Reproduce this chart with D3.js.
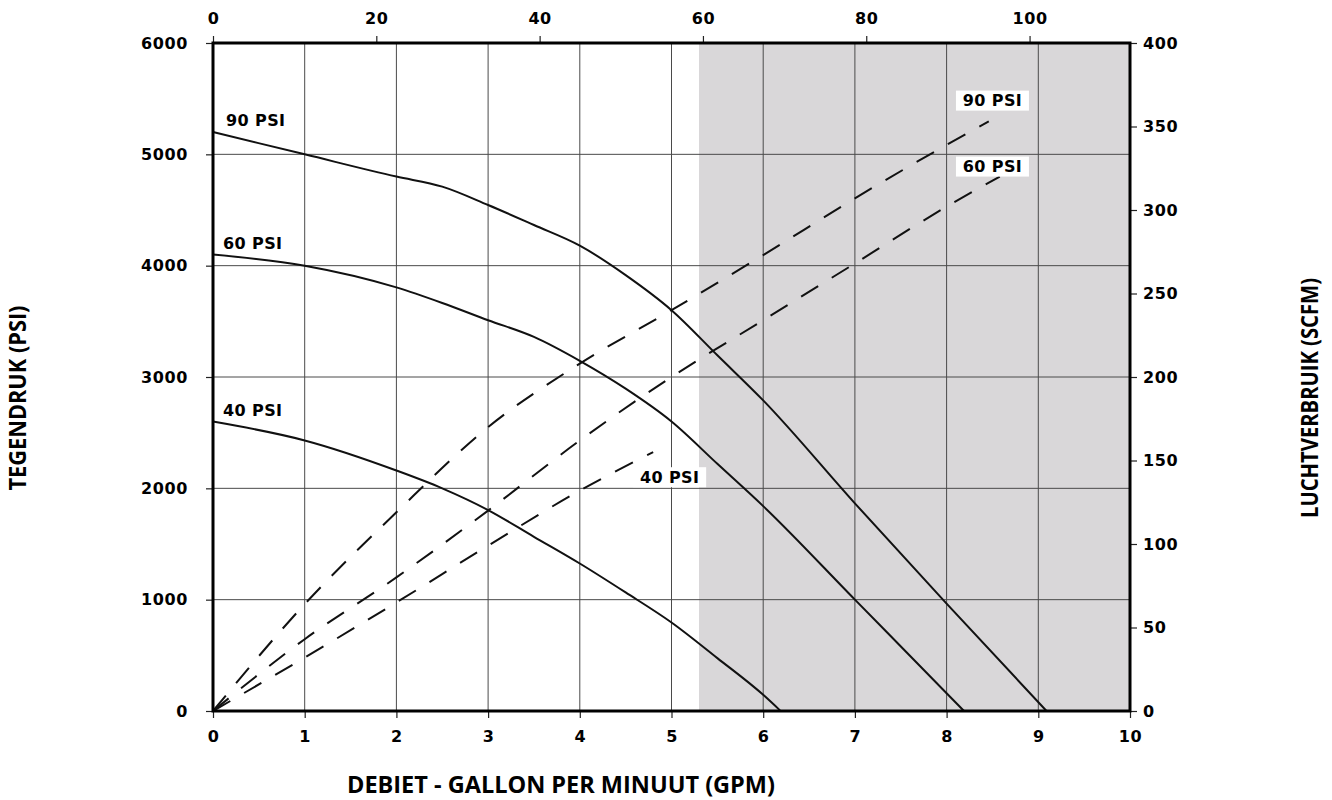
<!DOCTYPE html>
<html>
<head>
<meta charset="utf-8">
<script src="https://cdn.jsdelivr.net/npm/d3@7"></script>
<style>
  html, body { margin: 0; padding: 0; background: #fff; }
  svg { display: block; }
  text { font-family: "DejaVu Sans", sans-serif; font-weight: bold; fill: #000; }
</style>
</head>
<body>
<svg id="chart" width="1332" height="800"></svg>
<script>
// ---- Data -------------------------------------------------------------
// Flow axis (GPM) and its ticks
const gpmTicks = [0, 1, 2, 3, 4, 5, 6, 7, 8, 9, 10];
const topTicks = [0, 20, 40, 60, 80, 100];
const psiTicks = [0, 1000, 2000, 3000, 4000, 5000, 6000];
const scfmTicks = [0, 50, 100, 150, 200, 250, 300, 350, 400];

// Outlet pressure (PSI) vs flow, per air inlet pressure
const gpm90 = [0, 1, 2, 2.5, 3, 3.5, 4, 4.5, 5, 5.5, 6, 7, 8, 9.09];
const psi90 = [5200, 5000, 4800, 4710, 4545, 4365, 4180, 3915, 3600, 3195, 2790, 1865, 965, 0];

const gpm60 = [0, 1, 2, 2.5, 3, 3.5, 4, 4.5, 5, 5.5, 6, 7, 8, 8.19];
const psi60 = [4100, 4000, 3805, 3665, 3510, 3360, 3145, 2895, 2600, 2220, 1840, 1000, 160, 0];

const gpm40 = [0, 1, 2, 2.5, 3, 3.5, 4, 4.5, 5, 5.5, 6, 6.19];
const psi40 = [2600, 2430, 2160, 2000, 1805, 1565, 1325, 1065, 795, 475, 145, 0];

// Air consumption (SCFM) vs flow, per air inlet pressure
const airGpm90 = [0, 1, 2, 3, 4, 5, 6, 7, 8, 8.46];
const scfm90 = [0, 64, 119, 170, 208, 240, 273, 307, 339, 353];

const airGpm60 = [0, 1, 2, 3, 4, 5, 6, 7, 8, 8.58];
const scfm60 = [0, 43, 80, 120, 162, 200, 234, 268, 302, 320];

const airGpm40 = [0, 1, 2, 3, 4, 4.8];
const scfm40 = [0, 32, 65, 99, 132, 155];

// Flow beyond which the pump runs in the shaded range
const shadeFrom = 5.3;

// ---- Layout -----------------------------------------------------------
const svg = d3.select("#chart");
const L = 213, R = 1130, T = 43, B = 711;

const x = d3.scaleLinear().domain([0, 10]).range([L, R]);
const xTop = d3.scaleLinear().domain([0, 112.3]).range([L, R]);
const y = d3.scaleLinear().domain([0, 6000]).range([B, T]);
const yR = d3.scaleLinear().domain([0, 400]).range([B, T]);

// shaded region
svg.append("rect")
  .attr("x", x(shadeFrom)).attr("y", y(6000))
  .attr("width", x(10) - x(shadeFrom)).attr("height", y(0) - y(6000))
  .attr("fill", "#d9d7d9");

// grid
const grid = svg.append("g").attr("stroke", "#4a4a4a").attr("stroke-width", 1);
grid.selectAll("line.v").data(gpmTicks.slice(1, -1)).join("line")
  .attr("class", "v")
  .attr("x1", d => x(d)).attr("x2", d => x(d))
  .attr("y1", y(6000)).attr("y2", y(0));
grid.selectAll("line.h").data(psiTicks.slice(1, -1)).join("line")
  .attr("class", "h")
  .attr("x1", x(0)).attr("x2", x(10))
  .attr("y1", d => y(d)).attr("y2", d => y(d));

// curves
const psiLine = d3.line().x(d => x(d[0])).y(d => y(d[1])).curve(d3.curveMonotoneX);
const airLine = d3.line().x(d => x(d[0])).y(d => yR(d[1])).curve(d3.curveMonotoneX);

const curves = svg.append("g").attr("fill", "none").attr("stroke", "#111").attr("stroke-width", 2);
[[gpm90, psi90], [gpm60, psi60], [gpm40, psi40]].forEach(([g, p]) => {
  curves.append("path").attr("d", psiLine(d3.zip(g, p)));
});
[[airGpm90, scfm90], [airGpm60, scfm60], [airGpm40, scfm40]].forEach(([g, s]) => {
  curves.append("path").attr("d", airLine(d3.zip(g, s)))
    .attr("stroke-dasharray", "20 16");
});

// curve labels (pressure curves, left)
const labelFont = 16;
[["90 PSI", 5200], ["60 PSI", 4100], ["40 PSI", 2600]].forEach(([t, v], i) => {
  svg.append("text")
    .attr("x", x(0) + (i === 0 ? 13 : 10))
    .attr("y", y(v) - 6)
    .attr("font-size", labelFont)
    .attr("letter-spacing", 0.4)
    .text(t);
});

// curve labels (air consumption, with white backing)
[["90 PSI", 8.5, 365.5], ["60 PSI", 8.5, 326], ["40 PSI", 4.98, 140]].forEach(([t, g, s]) => {
  const cx = x(g), cy = yR(s);
  const w = 73, h = 20;
  svg.append("rect").attr("x", cx - w / 2).attr("y", cy - h / 2)
    .attr("width", w).attr("height", h).attr("fill", "#fff");
  svg.append("text")
    .attr("x", cx).attr("y", cy).attr("dy", "0.36em")
    .attr("text-anchor", "middle")
    .attr("font-size", labelFont)
    .attr("letter-spacing", 0.4)
    .text(t);
});

// axes
function styleAxis(g) {
  g.select(".domain").remove();
  g.selectAll(".tick line").attr("stroke", "#222").attr("stroke-width", 1.2);
  g.selectAll(".tick text")
    .attr("font-family", "DejaVu Sans, sans-serif")
    .attr("font-weight", "bold")
    .attr("font-size", 16)
    .attr("letter-spacing", 0.6)
    .attr("fill", "#000");
}

svg.append("g").attr("transform", `translate(${L},0)`)
  .call(d3.axisLeft(y).tickValues(psiTicks).tickSize(7).tickPadding(18).tickFormat(d3.format("d")))
  .call(styleAxis);

svg.append("g").attr("transform", `translate(${R},0)`)
  .call(d3.axisRight(yR).tickValues(scfmTicks).tickSize(7).tickPadding(6).tickFormat(d3.format("d")))
  .call(styleAxis);

svg.append("g").attr("transform", `translate(0,${B})`)
  .call(d3.axisBottom(x).tickValues(gpmTicks).tickSize(7).tickPadding(13).tickFormat(d3.format("d")))
  .call(styleAxis);

svg.append("g").attr("transform", `translate(0,${T})`)
  .call(d3.axisTop(xTop).tickValues(topTicks).tickSize(7).tickPadding(12).tickFormat(d3.format("d")))
  .call(styleAxis);

// frame
svg.append("rect")
  .attr("x", L).attr("y", T).attr("width", R - L).attr("height", B - T)
  .attr("fill", "none").attr("stroke", "#000").attr("stroke-width", 3);

// axis titles
svg.append("text")
  .attr("transform", `translate(561,793)`)
  .attr("text-anchor", "middle")
  .style("font-family", "'Open Sans', sans-serif")
  .attr("font-size", 24)
  .attr("textLength", 428).attr("lengthAdjust", "spacingAndGlyphs")
  .text("DEBIET - GALLON PER MINUUT (GPM)");

svg.append("text")
  .attr("transform", `translate(18,398) rotate(-90)`)
  .attr("text-anchor", "middle").attr("dy", "0.36em")
  .style("font-family", "'Open Sans', sans-serif")
  .attr("font-size", 23)
  .attr("textLength", 185).attr("lengthAdjust", "spacingAndGlyphs")
  .text("TEGENDRUK  (PSI)");

svg.append("text")
  .attr("transform", `translate(1310,398) rotate(-90)`)
  .attr("text-anchor", "middle").attr("dy", "0.36em")
  .style("font-family", "'Open Sans', sans-serif")
  .attr("font-size", 23)
  .attr("textLength", 240).attr("lengthAdjust", "spacingAndGlyphs")
  .text("LUCHTVERBRUIK  (SCFM)");
</script>
</body>
</html>
